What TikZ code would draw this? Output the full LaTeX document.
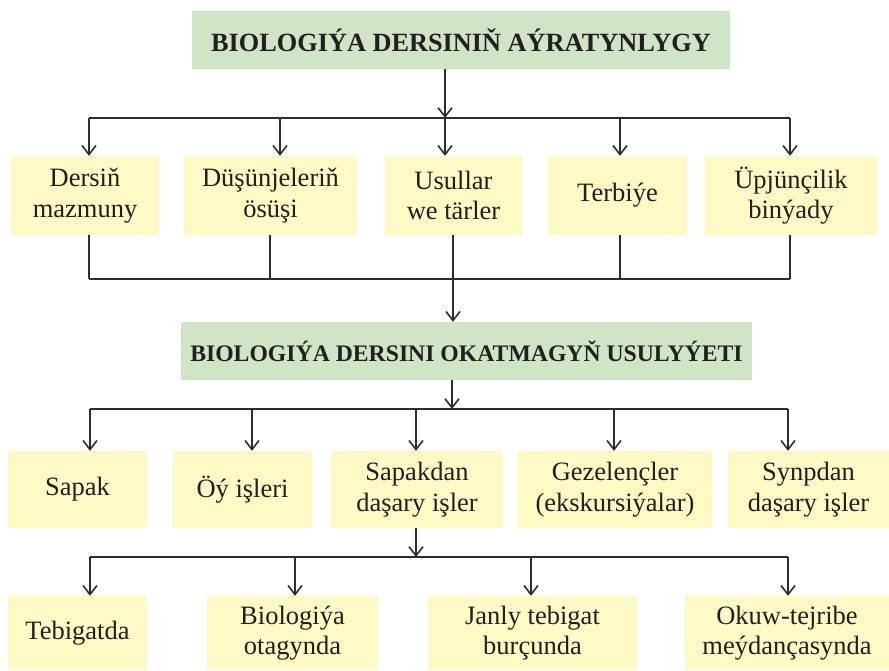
\documentclass[tikz,border=0pt]{standalone}
\usepackage{fontspec}
\setmainfont{Liberation Serif}
\usetikzlibrary{arrows.meta}
\definecolor{hdrgreen}{RGB}{208,229,198}
\definecolor{itemyel}{RGB}{255,249,198}
\definecolor{lncol}{RGB}{45,45,45}
\definecolor{txtcol}{RGB}{35,31,32}
\begin{document}
\begin{tikzpicture}[x=1pt,y=-1pt,
  hdrbox/.style={fill=hdrgreen, inner sep=0pt, align=center, text=txtcol, minimum height=58pt},
  itembox/.style={fill=itemyel, inner sep=0pt, align=center, text=txtcol, font=\fontsize{26.5}{30.5}\selectfont},
  arr/.style={draw=lncol, line width=1.6pt, -{Straight Barb[length=9pt,width=14pt,line width=1.6pt]}},
  conn/.style={draw=lncol, line width=1.6pt},
  bus/.style={draw=lncol, line width=2.5pt}]
\useasboundingbox (0,0) rectangle (889,670);

% titles
\node[hdrbox, minimum width=538pt, font=\bfseries\fontsize{26.3}{30}\selectfont] (t1) at (461,40) {BIOLOGIÝA DERSINIŇ AÝRATYNLYGY};
\node[hdrbox, minimum width=571pt, font=\bfseries\fontsize{23.7}{28}\selectfont] (t2) at (466.5,351) {BIOLOGIÝA DERSINI OKATMAGYŇ USULYÝETI};

% row 1
\node[itembox, minimum width=148pt, minimum height=79pt] (a1) at (85,195.5) {Dersiň\\mazmuny};
\node[itembox, minimum width=173pt, minimum height=79pt] (a2) at (270.5,195.5) {Düşünjeleriň\\ösüşi};
\node[itembox, minimum width=137pt, minimum height=79pt] (a3) at (453.5,195.5) {Usullar\\we tärler};
\node[itembox, minimum width=139pt, minimum height=79pt] (a4) at (617.5,195.5) {Terbiýe};
\node[itembox, minimum width=172pt, minimum height=79pt] (a5) at (791,195.5) {Üpjünçilik\\binýady};

% row 2
\node[itembox, minimum width=139pt, minimum height=77pt] (b1) at (77.5,489.5) {Sapak};
\node[itembox, minimum width=139pt, minimum height=77pt] (b2) at (242.5,489.5) {Öý işleri};
\node[itembox, minimum width=172pt, minimum height=77pt] (b3) at (417,489.5) {Sapakdan\\daşary işler};
\node[itembox, minimum width=194pt, minimum height=77pt] (b4) at (615,489.5) {Gezelençler\\(ekskursiýalar)};
\node[itembox, minimum width=161pt, minimum height=77pt] (b5) at (808.5,489.5) {Synpdan\\daşary işler};

% row 3
\node[itembox, minimum width=139pt, minimum height=74pt] (c1) at (77.5,633) {Tebigatda};
\node[itembox, minimum width=171pt, minimum height=74pt] (c2) at (292.5,633) {Biologiýa\\otagynda};
\node[itembox, minimum width=209pt, minimum height=74pt] (c3) at (532.5,633) {Janly tebigat\\burçunda};
\node[itembox, minimum width=204pt, minimum height=74pt] (c4) at (787,633) {Okuw-tejribe\\meýdançasynda};

% bus coordinates
\coordinate (bAl) at (89,118);  \coordinate (bAr) at (790,118);
\coordinate (bBl) at (89,279);  \coordinate (bBr) at (790,279);
\coordinate (bCl) at (90,409);  \coordinate (bCr) at (788,409);
\coordinate (bDl) at (90,557);  \coordinate (bDr) at (788,557);

% title 1 -> row 1
\draw[arr] ([xshift=-16pt]t1.south) -- ([xshift=-16pt]t1.south |- bAl);
\draw[bus] (bAl) -- (bAr);
\draw[arr] ([xshift=4pt]a1.north |- bAl) -- ([xshift=4pt]a1.north);
\draw[arr] ([xshift=9.5pt]a2.north |- bAl) -- ([xshift=9.5pt]a2.north);
\draw[arr] ([xshift=-8.5pt]a3.north |- bAl) -- ([xshift=-8.5pt]a3.north);
\draw[arr] ([xshift=2.5pt]a4.north |- bAl) -- ([xshift=2.5pt]a4.north);
\draw[arr] ([xshift=-1pt]a5.north |- bAl) -- ([xshift=-1pt]a5.north);

% row 1 -> title 2
\draw[conn] ([xshift=4pt]a1.south) -- ([xshift=4pt]a1.south |- bBl);
\draw[conn] ([xshift=-0.5pt]a2.south) -- ([xshift=-0.5pt]a2.south |- bBl);
\draw[conn] ([xshift=-0.5pt]a3.south) -- ([xshift=-0.5pt]a3.south |- bBl);
\draw[conn] ([xshift=2.5pt]a4.south) -- ([xshift=2.5pt]a4.south |- bBl);
\draw[conn] ([xshift=-1pt]a5.south) -- ([xshift=-1pt]a5.south |- bBl);
\draw[bus] (bBl) -- (bBr);
\draw[arr] ([xshift=-13.5pt]t2.north |- bBl) -- ([xshift=-13.5pt]t2.north);

% title 2 -> row 2
\draw[arr] ([xshift=-14.5pt]t2.south) -- ([xshift=-14.5pt]t2.south |- bCl);
\draw[bus] (bCl) -- (bCr);
\draw[arr] ([xshift=12.5pt]b1.north |- bCl) -- ([xshift=12.5pt]b1.north);
\draw[arr] ([xshift=9.5pt]b2.north |- bCl) -- ([xshift=9.5pt]b2.north);
\draw[arr] ([xshift=-1pt]b3.north |- bCl) -- ([xshift=-1pt]b3.north);
\draw[arr] ([xshift=-1pt]b4.north |- bCl) -- ([xshift=-1pt]b4.north);
\draw[arr] ([xshift=-20.5pt]b5.north |- bCl) -- ([xshift=-20.5pt]b5.north);

% row 2 -> row 3
\draw[arr] ([xshift=-1pt]b3.south) -- ([xshift=-1pt]b3.south |- bDl);
\draw[bus] (bDl) -- (bDr);
\draw[arr] ([xshift=12.5pt]c1.north |- bDl) -- ([xshift=12.5pt]c1.north);
\draw[arr] ([xshift=2.5pt]c2.north |- bDl) -- ([xshift=2.5pt]c2.north);
\draw[arr] ([xshift=-1.5pt]c3.north |- bDl) -- ([xshift=-1.5pt]c3.north);
\draw[arr] ([xshift=1pt]c4.north |- bDl) -- ([xshift=1pt]c4.north);
\end{tikzpicture}
\end{document}
